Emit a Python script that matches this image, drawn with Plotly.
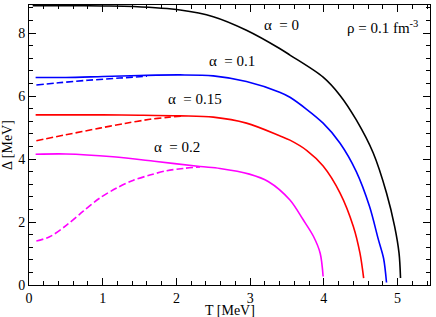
import plotly.graph_objects as go

# alpha = 0
T_a0 = [0.05, 0.5, 1.0, 1.42, 2.05, 2.50, 2.95, 3.40, 3.54, 3.99, 4.22, 4.44, 4.67, 4.85, 4.96, 5.02, 5.04]
D_a0 = [8.87, 8.87, 8.86, 8.84, 8.73, 8.52, 8.09, 7.51, 7.30, 6.60, 6.02, 5.24, 4.19, 2.92, 1.86, 1.01, 0.22]

# alpha = 0.1 solid
T_a1 = [0.09, 0.5, 1.0, 1.5, 2.05, 2.50, 2.95, 3.40, 3.54, 3.99, 4.22, 4.44, 4.62, 4.74, 4.81, 4.85]
D_a1 = [6.59, 6.59, 6.62, 6.65, 6.67, 6.64, 6.46, 6.12, 5.96, 5.14, 4.50, 3.60, 2.49, 1.44, 0.85, 0.08]
# alpha = 0.1 dashed
T_a1d = [0.1, 0.4, 0.8, 1.23, 1.6]
D_a1d = [6.35, 6.42, 6.50, 6.57, 6.63]

# alpha = 0.15 solid
T_a15 = [0.09, 0.5, 1.0, 1.5, 2.05, 2.50, 2.95, 3.40, 3.54, 3.77, 3.99, 4.22, 4.40, 4.49, 4.54]
D_a15 = [5.40, 5.40, 5.40, 5.39, 5.37, 5.33, 5.14, 4.74, 4.60, 4.27, 3.78, 2.92, 1.86, 1.01, 0.22]
# alpha = 0.15 dashed
T_a15d = [0.1, 0.5, 0.96, 1.3, 1.64, 1.9, 2.1]
D_a15d = [4.58, 4.77, 4.98, 5.13, 5.26, 5.33, 5.37]

# alpha = 0.2 solid
T_a2 = [0.09, 0.5, 1.14, 1.7, 2.32, 2.59, 2.99, 3.25, 3.54, 3.72, 3.86, 3.95, 3.99]
D_a2 = [4.15, 4.16, 4.07, 3.93, 3.76, 3.70, 3.52, 3.28, 2.70, 2.07, 1.54, 1.01, 0.27]
# alpha = 0.2 dashed
T_a2d = [0.1, 0.28, 0.51, 0.74, 0.96, 1.19, 1.41, 1.64, 1.87, 2.09, 2.32]
D_a2d = [1.40, 1.53, 1.90, 2.35, 2.76, 3.08, 3.32, 3.49, 3.63, 3.70, 3.75]

labels = ["α\u00a0\u00a0= 0", "α\u00a0\u00a0= 0.1", "α\u00a0\u00a0= 0.15", "α\u00a0\u00a0= 0.2",
          "ρ = 0.1 fm<sup>-3</sup>"]
label_T = [3.42, 2.75, 2.25, 2.01, 4.80]
label_D = [8.25, 7.11, 5.91, 4.38, 8.19]

FONT = "Liberation Serif, serif"

series = [
    (T_a0, D_a0, "black", "solid"),
    (T_a1, D_a1, "blue", "solid"),
    (T_a1d, D_a1d, "blue", "7px,3px"),
    (T_a15, D_a15, "red", "solid"),
    (T_a15d, D_a15d, "red", "7px,3px"),
    (T_a2, D_a2, "magenta", "solid"),
    (T_a2d, D_a2d, "magenta", "7px,3px"),
]

fig = go.Figure()
for t, d, c, dash in series:
    fig.add_trace(go.Scatter(x=t, y=d, mode="lines",
                             line=dict(color=c, width=1.6, dash=dash, shape="spline", smoothing=0.9),
                             showlegend=False, hoverinfo="skip"))

for txt, tx, dy in zip(labels, label_T, label_D):
    fig.add_annotation(x=tx, y=dy, text=txt, showarrow=False, xref="x", yref="y",
                       font=dict(family=FONT, size=15, color="black"))

# axis titles as annotations for precise placement
fig.add_annotation(x=0.5, y=-0.091, xref="paper", yref="paper", text="T [MeV]", showarrow=False,
                   yanchor="middle", font=dict(family=FONT, size=14, color="black"))
fig.add_annotation(x=-0.055, y=0.5, xref="paper", yref="paper", text="Δ [MeV]", showarrow=False,
                   textangle=-90, xanchor="center", font=dict(family=FONT, size=14, color="black"))

axis_common = dict(showgrid=False, zeroline=False, ticks="inside", mirror="ticks", showline=True,
                   linecolor="black", linewidth=1, tickcolor="black", ticklen=7, tickwidth=1,
                   tickfont=dict(family=FONT, size=14, color="black"))

fig.update_xaxes(range=[0, 5.44], tick0=0, dtick=1,
                 minor=dict(dtick=0.2, ticks="inside", ticklen=4, tickcolor="black"),
                 **axis_common)
fig.update_yaxes(range=[0, 8.89], tick0=0, dtick=2,
                 minor=dict(dtick=0.4, ticks="inside", ticklen=4, tickcolor="black"),
                 **axis_common)

fig.update_layout(width=436, height=317, margin=dict(l=29, r=6, t=5, b=32),
                  plot_bgcolor="white", paper_bgcolor="white")

fig.write_html("out.html", config={"displayModeBar": False},
               post_script="document.body.style.margin='0';document.body.style.padding='0';")
